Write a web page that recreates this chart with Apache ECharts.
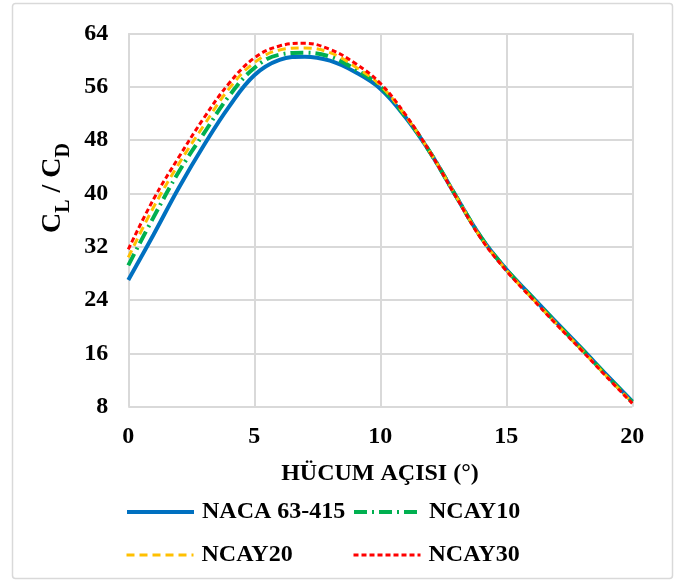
<!DOCTYPE html>
<html>
<head>
<meta charset="utf-8">
<script src="https://cdn.jsdelivr.net/npm/echarts@6/dist/echarts.min.js"></script>
<style>
html,body{margin:0;padding:0;background:#fff;}
#chart{width:684px;height:585px;}
</style>
</head>
<body>
<div id="chart"></div>
<script>
var angles = [0,1,2,3,4,5,6,7,8,9,10,11,12,13,14,15,16,17,18,19,20];
var naca63415 = [27.0,33.8,40.8,47.2,53.0,57.7,60.0,60.5,59.9,58.2,55.7,51.4,46.0,39.6,33.4,28.6,24.6,20.6,16.7,12.7,8.8];
var ncay10 = [29.2,36.4,43.2,49.0,54.6,58.8,60.8,61.1,60.5,58.6,56.0,51.5,46.0,39.6,33.4,28.6,24.5,20.5,16.6,12.6,8.7];
var ncay20 = [30.4,37.9,44.4,50.2,55.7,59.6,61.5,61.8,61.1,59.0,56.2,51.6,46.0,39.6,33.3,28.5,24.4,20.4,16.5,12.5,8.6];
var ncay30 = [31.6,39.1,45.4,51.3,56.5,60.3,62.1,62.5,61.6,59.5,56.5,51.8,46.0,39.5,33.2,28.4,24.3,20.3,16.4,12.4,8.5];
var seriesNames = ['NACA 63-415','NCAY10','NCAY20','NCAY30'];
var xTitle = 'HÜCUM AÇISI (°)';

var FONT = "'Times New Roman','Liberation Serif',serif";
function pairs(vals){ return angles.map(function(a,i){ return [a, vals[i]]; }); }

var styles = [
  {color:'#0070C0', width:4, type:'solid'},
  {color:'#00B050', width:4, type:[13,5,2,5]},
  {color:'#FFC000', width:3, type:[8,5]},
  {color:'#FF0000', width:3, type:[5,3]}
];

var chart = echarts.init(document.getElementById('chart'), null, {renderer:'canvas'});
var gridStyle = {color:'#d9d9d9', width:2};
var labelStyle = {color:'#000', fontFamily:FONT, fontWeight:'bold', fontSize:24};

function legend(i, left, top){
  return {
    data:[{name:seriesNames[i], itemStyle:{opacity:0}, lineStyle:{color:styles[i].color, width:styles[i].width, type:styles[i].type, cap:'butt'}}],
    left:left, top:top, padding:0, itemWidth:67, itemHeight:14,
    selectedMode:false,
    textStyle:{color:'#000', fontFamily:FONT, fontWeight:'bold', fontSize:24, padding:[0,0,0,3]}
  };
}

chart.setOption({
  animation:false,
  backgroundColor:'#fff',
  grid:{left:128.3, right:51.7, top:33.3, bottom:178.3, containLabel:false},
  xAxis:{
    type:'value', min:0, max:20, interval:5,
    axisLine:{show:false}, axisTick:{show:false},
    splitLine:{show:true, lineStyle:gridStyle},
    axisLabel:Object.assign({margin:18}, labelStyle)
  },
  yAxis:{
    type:'value', min:8, max:64, interval:8,
    axisLine:{show:false}, axisTick:{show:false},
    splitLine:{show:true, lineStyle:gridStyle},
    axisLabel:Object.assign({margin:20}, labelStyle)
  },
  legend:[
    legend(0, 125, 500),
    legend(1, 352, 500),
    legend(2, 125, 543),
    legend(3, 352, 543)
  ],
  graphic:[
    {type:'rect', shape:{x:12.5, y:3.5, width:660, height:575, r:3}, style:{fill:null, stroke:'#d9d9d9', lineWidth:1.5}, silent:true},
    {type:'text', x:380, y:474, silent:true,
      style:{text:xTitle, fill:'#000', font:"bold 24px " + FONT, align:'center', verticalAlign:'middle'}},
    {type:'text', x:53, y:188, rotation:Math.PI/2, silent:true,
      style:{
        text:'{m|C}{s|L}{m| / C}{s|D}', align:'center', verticalAlign:'middle',
        rich:{
          m:{fontSize:28, fontWeight:'bold', fontFamily:FONT, fill:'#000', lineHeight:28, verticalAlign:'top'},
          s:{fontSize:20, fontWeight:'bold', fontFamily:FONT, fill:'#000', lineHeight:20, padding:[15,0,0,0], verticalAlign:'top'}
        }
      }}
  ],
  series:seriesNames.map(function(n, i){
    var d = [naca63415, ncay10, ncay20, ncay30][i];
    return {name:n, type:'line', data:pairs(d), smooth:0.4, symbol:'none',
      color:styles[i].color,
      lineStyle:{color:styles[i].color, width:styles[i].width, type:styles[i].type, cap:'butt'}};
  })
});
</script>
</body>
</html>
